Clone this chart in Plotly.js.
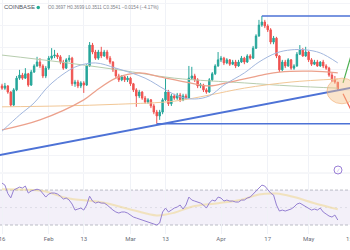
<!DOCTYPE html>
<html>
<head>
<meta charset="utf-8">
<script src="https://cdn.plot.ly/plotly-3.0.1.min.js"></script>
<style>
  html, body { margin: 0; padding: 0; background: #ffffff; }
  #chart { width: 350px; height: 250px; }
</style>
</head>
<body>
<div id="chart"></div>
<script>
// Daily candles, one per day starting 16 Jan 2023
const firstDay = [2023, 0, 16];

const openPx = [
  0.361,0.356,0.361,0.347,0.317,0.352,0.379,0.386,0.379,0.389,
  0.363,0.393,0.407,0.416,0.407,0.384,0.402,0.425,0.430,0.432,
  0.428,0.416,0.402,0.421,0.425,0.366,0.370,0.361,0.368,0.363,
  0.407,0.455,0.439,0.425,0.439,0.430,0.439,0.425,0.416,0.398,
  0.384,0.375,0.382,0.375,0.379,0.366,0.352,0.338,0.347,0.333,
  0.324,0.329,0.315,0.301,0.292,0.301,0.329,0.347,0.320,0.338,
  0.333,0.340,0.329,0.338,0.333,0.379,0.384,0.375,0.361,0.363,
  0.352,0.347,0.375,0.389,0.407,0.421,0.425,0.414,0.421,0.411,
  0.416,0.407,0.416,0.425,0.416,0.430,0.425,0.448,0.476,0.501,
  0.508,0.499,0.490,0.462,0.471,0.430,0.398,0.416,0.407,0.421,
  0.402,0.407,0.434,0.444,0.430,0.439,0.421,0.411,0.416,0.407,
  0.416,0.407,0.402,0.386,0.375,0.3697
];
const highPx = [
  0.366,0.368,0.363,0.349,0.356,0.384,0.398,0.391,0.402,0.391,
  0.398,0.411,0.428,0.425,0.411,0.407,0.430,0.448,0.444,0.437,
  0.432,0.421,0.425,0.432,0.428,0.375,0.375,0.372,0.372,0.411,
  0.462,0.460,0.444,0.444,0.451,0.444,0.444,0.430,0.418,0.402,
  0.389,0.386,0.384,0.384,0.382,0.368,0.356,0.352,0.349,0.338,
  0.333,0.331,0.320,0.306,0.306,0.333,0.379,0.352,0.343,0.343,
  0.345,0.345,0.343,0.343,0.407,0.405,0.389,0.379,0.368,0.366,
  0.356,0.379,0.393,0.411,0.439,0.430,0.428,0.425,0.423,0.421,
  0.421,0.421,0.430,0.428,0.434,0.434,0.453,0.480,0.513,0.522,
  0.513,0.503,0.494,0.476,0.474,0.432,0.421,0.421,0.425,0.423,
  0.411,0.439,0.455,0.448,0.451,0.441,0.425,0.421,0.421,0.418,
  0.421,0.411,0.405,0.391,0.384,0.3699
];
const lowPx = [
  0.352,0.352,0.343,0.313,0.315,0.349,0.375,0.375,0.377,0.359,
  0.361,0.391,0.405,0.402,0.379,0.379,0.398,0.421,0.425,0.423,
  0.411,0.398,0.400,0.416,0.361,0.359,0.356,0.356,0.345,0.361,
  0.405,0.434,0.421,0.421,0.425,0.428,0.421,0.411,0.393,0.379,
  0.370,0.372,0.370,0.370,0.361,0.347,0.313,0.333,0.329,0.320,
  0.320,0.310,0.296,0.274,0.283,0.296,0.326,0.315,0.315,0.329,
  0.329,0.324,0.326,0.329,0.331,0.375,0.370,0.356,0.356,0.347,
  0.343,0.345,0.372,0.386,0.405,0.416,0.409,0.411,0.407,0.409,
  0.402,0.405,0.414,0.411,0.414,0.421,0.423,0.446,0.474,0.497,
  0.494,0.485,0.457,0.457,0.425,0.393,0.395,0.402,0.405,0.398,
  0.398,0.405,0.432,0.428,0.428,0.416,0.407,0.409,0.405,0.405,
  0.402,0.398,0.382,0.370,0.366,0.3511
];
const closePx = [
  0.356,0.361,0.347,0.317,0.352,0.379,0.386,0.379,0.389,0.363,
  0.393,0.407,0.416,0.407,0.384,0.402,0.425,0.430,0.432,0.428,
  0.416,0.402,0.421,0.425,0.366,0.370,0.361,0.368,0.363,0.407,
  0.455,0.439,0.425,0.439,0.430,0.439,0.425,0.416,0.398,0.384,
  0.375,0.382,0.375,0.379,0.366,0.352,0.338,0.347,0.333,0.324,
  0.329,0.315,0.301,0.292,0.301,0.329,0.347,0.320,0.338,0.333,
  0.340,0.329,0.338,0.333,0.379,0.384,0.375,0.361,0.363,0.352,
  0.347,0.375,0.389,0.407,0.421,0.425,0.414,0.421,0.411,0.416,
  0.407,0.416,0.425,0.416,0.430,0.425,0.448,0.476,0.501,0.508,
  0.499,0.490,0.462,0.471,0.430,0.398,0.416,0.407,0.421,0.402,
  0.407,0.434,0.444,0.430,0.439,0.421,0.411,0.416,0.407,0.416,
  0.407,0.402,0.386,0.375,0.370,0.3541
];

// RSI(14), one value per candle
const rsiVals = [
  78,75.7,66,61,70,72,73.4,72.3,74.6,66.6,
  69,70,71,70,66.6,62,65.5,66.6,66.6,65.5,
  63,59.7,60.9,58.6,54,47.1,48.3,49.4,47.1,52.9,
  63,57.4,55.1,56.3,55.1,55.1,52.9,49.4,47.1,44.9,
  43.7,44.9,44.9,43.7,41.4,39.1,38,36.8,35.7,34.6,
  33.4,32.3,31.1,30,32.3,44.9,49.4,44.9,47.1,49.4,
  50.6,52.9,48.3,52.9,62,58.6,57.4,56.3,55.1,52.9,
  49.4,55.1,58.6,57.4,62,60.9,57.4,58.6,57.4,57.4,
  56.3,56.3,58.6,58.6,60.9,62,65.5,69,73.4,75.7,
  74.6,70,66.6,64.3,52.9,46,47.1,46,47.1,48.3,
  50.6,54,55.1,52.9,51.7,49.4,47.1,48.3,47.1,49.4,
  44.9,42.6,40.3,39.1,41.4,35.7
];
// RSI moving average (candle index, value)
const rsiMaIdx = [0, 14, 22, 34, 45, 53, 59, 65, 74, 82, 88, 94, 100, 107, 115];
const rsiMaVal = [71, 69, 61, 56, 47, 41, 44, 51, 55, 59, 65, 66, 62, 55, 48];

// Moving averages on price (candle index, value)
const maFastIdx = [0, 6, 11, 16, 22, 26, 32, 39, 49, 56, 61, 66, 71, 76, 83, 88, 94, 99, 104, 109, 115];
const maFastVal = [0.257,0.294,0.322,0.361,0.393,0.407,0.414,0.402,0.379,0.352,0.336,0.331,0.338,0.363,0.391,0.416,0.437,0.444,0.444,0.437,0.414];
const maMidIdx = [0, 13, 28, 32, 39, 47, 54, 63, 71, 78, 89, 95, 106, 115];
const maMidVal = [0.260,0.283,0.329,0.349,0.379,0.391,0.382,0.370,0.361,0.370,0.386,0.393,0.395,0.391];
const maSlowIdx = [0, 20, 40, 59, 71, 83, 99, 115];
const maSlowVal = [0.313,0.315,0.319,0.326,0.340,0.356,0.370,0.377];
const maLongIdx = [0, 20, 40, 59, 83, 99, 115];
const maLongVal = [0.432,0.416,0.398,0.379,0.368,0.361,0.356];

// Drawn levels
const trendDates = ['2023-01-14', '2023-05-16'];
const trendVals = [0.2006, 0.3572];
const topLevelDates = ['2023-04-15', '2023-05-16'];
const topLevelVals = [0.522, 0.522];
const lowLevelDates = ['2023-03-10', '2023-05-16'];
const lowLevelVals = [0.274, 0.274];
const upPathDates = ['2023-05-12 19:00', '2023-05-15 12:00'];
const upPathVals = [0.368, 0.430];
const downPathDates = ['2023-05-12 19:00', '2023-05-15 12:00'];
const downPathVals = [0.343, 0.306];

// Time axis labels
const tickDates = ['2023-01-16','2023-02-01','2023-02-13','2023-03-01','2023-03-13','2023-04-01','2023-04-17','2023-05-01','2023-05-15'];
const tickText = ['16','Feb','13','Mar','13','Apr','17','May','15'];

function dayAt(i) {
  const d = new Date(Date.UTC(firstDay[0], firstDay[1], firstDay[2] + i));
  return d.toISOString().slice(0, 10);
}
const dates = openPx.map((_, i) => dayAt(i));
const pick = idx => idx.map(dayAt);

const UP = '#26a69a', DOWN = '#ef5350', DRAW = '#4d72d6';

function maLine(idx, vals, color, width) {
  return { type: 'scatter', mode: 'lines', x: pick(idx), y: vals, xaxis: 'x', yaxis: 'y',
    line: { color: color, width: width, shape: 'spline', smoothing: 1 }, hoverinfo: 'skip' };
}
function level(xs, ys, color, width) {
  return { type: 'scatter', mode: 'lines', x: xs, y: ys, xaxis: 'x', yaxis: 'y',
    line: { color: color, width: width }, hoverinfo: 'skip', cliponaxis: true };
}

const traces = [
  maLine(maLongIdx, maLongVal, '#b7cdae', 1),
  maLine(maSlowIdx, maSlowVal, '#f2c796', 1),
  maLine(maMidIdx, maMidVal, '#eca18c', 1.2),
  maLine(maFastIdx, maFastVal, '#a2b7de', 1),
  {
    type: 'candlestick', x: dates, open: openPx, high: highPx, low: lowPx, close: closePx,
    xaxis: 'x', yaxis: 'y',
    increasing: { line: { color: UP, width: 1 }, fillcolor: UP },
    decreasing: { line: { color: DOWN, width: 1 }, fillcolor: DOWN },
    whiskerwidth: 0, hoverinfo: 'skip'
  },
  level(trendDates, trendVals, DRAW, 2),
  level(topLevelDates, topLevelVals, DRAW, 1.6),
  level(lowLevelDates, lowLevelVals, DRAW, 1.6),
  level(upPathDates, upPathVals, '#4caf50', 1.2),
  level(downPathDates, downPathVals, '#f06050', 1.2),
  { type: 'scatter', mode: 'lines', x: pick(rsiMaIdx), y: rsiMaVal, xaxis: 'x', yaxis: 'y2',
    line: { color: 'rgba(240,216,150,0.6)', width: 2, shape: 'spline' }, hoverinfo: 'skip' },
  { type: 'scatter', mode: 'lines', x: dates, y: rsiVals, xaxis: 'x', yaxis: 'y2',
    line: { color: '#9580d2', width: 1 }, hoverinfo: 'skip' }
];

const H = 234; // plot area height in px
const py = px => (H - px) / H;

const layout = {
  width: 350, height: 250,
  margin: { l: 0, r: 0, t: 0, b: 16 },
  paper_bgcolor: '#ffffff', plot_bgcolor: '#ffffff',
  showlegend: false,
  font: { family: 'Roboto, Liberation Sans, sans-serif', color: '#6a6d78' },
  xaxis: {
    type: 'date', range: ['2023-01-15 07:34', '2023-05-15 04:19'],
    anchor: 'y2', tickmode: 'array', tickvals: tickDates, ticktext: tickText,
    tickfont: { size: 6, color: '#6a6d78' }, ticks: '', ticklabeloverflow: 'allow',
    showgrid: true, gridcolor: '#f0f2f7', gridwidth: 1,
    zeroline: false, showline: false, rangeslider: { visible: false }, fixedrange: true
  },
  yaxis: {
    domain: [0.265, 1], range: [0.1631, 0.5587], showticklabels: false,
    showgrid: true, gridcolor: '#f3f4f8', dtick: 0.05, zeroline: false, fixedrange: true
  },
  yaxis2: {
    domain: [0, 0.256], range: [19.7, 88.3], showticklabels: false,
    showgrid: false, zeroline: false, fixedrange: true
  },
  shapes: [
    // RSI band and guide lines
    { type: 'rect', xref: 'paper', yref: 'y2', x0: 0, x1: 1, y0: 30, y1: 70,
      fillcolor: 'rgba(126,87,194,0.09)', line: { width: 0 }, layer: 'below' },
    { type: 'line', xref: 'paper', yref: 'y2', x0: 0, x1: 1, y0: 70, y1: 70,
      line: { color: '#a9acb8', width: 0.8, dash: '3px,2px' }, layer: 'below' },
    { type: 'line', xref: 'paper', yref: 'y2', x0: 0, x1: 1, y0: 50, y1: 50,
      line: { color: 'rgba(169,172,184,0.35)', width: 0.8, dash: '2px,3px' }, layer: 'below' },
    { type: 'line', xref: 'paper', yref: 'y2', x0: 0, x1: 1, y0: 30, y1: 30,
      line: { color: '#a9acb8', width: 0.8, dash: '3px,2px' }, layer: 'below' },
    // pane separator
    { type: 'line', xref: 'paper', yref: 'paper', x0: 0, x1: 1, y0: py(173), y1: py(173),
      line: { color: '#eceef3', width: 1 } },
    // highlighted zone at the last candles
    { type: 'circle', xref: 'x', yref: 'y', x0: '2023-05-07 07:00', x1: '2023-05-17 14:00', y0: 0.320, y1: 0.379,
      fillcolor: 'rgba(247,196,140,0.45)', line: { color: 'rgba(240,170,110,0.55)', width: 1 } },
    // live dot beside the symbol
    { type: 'circle', xref: 'paper', yref: 'paper', x0: 36.5/350, x1: 40/350, y0: py(9.2), y1: py(5.7),
      fillcolor: '#22ab94', line: { width: 0 } },
    // RSI pane icon
    { type: 'circle', xref: 'paper', yref: 'paper', x0: 334/350, x1: 342/350, y0: py(174), y1: py(166),
      fillcolor: 'rgba(255,255,255,0)', line: { color: '#9a7fd6', width: 1 } }
  ],
  annotations: [
    { xref: 'paper', yref: 'paper', x: 2/350, y: py(7.5), xanchor: 'left', yanchor: 'middle',
      text: 'COINBASE', showarrow: false, font: { size: 6, color: '#50535e', family: 'Liberation Sans, Arial, sans-serif' } },
    { xref: 'paper', yref: 'paper', x: 46/350, y: py(7.5), xanchor: 'left', yanchor: 'middle',
      text: 'O0.3697 H0.3699 L0.3511 C0.3541 \u22120.0154 (\u22124.17%)', showarrow: false,
      font: { size: 4.6, color: '#7b7e88', family: 'Liberation Sans, Arial, sans-serif' } },
    { xref: 'paper', yref: 'paper', x: 338/350, y: py(170), xanchor: 'center', yanchor: 'middle',
      text: '\u2215', showarrow: false, font: { size: 5, color: '#9a7fd6' } }
  ]
};

Plotly.newPlot('chart', traces, layout, { staticPlot: true, displayModeBar: false });
</script>
</body>
</html>
